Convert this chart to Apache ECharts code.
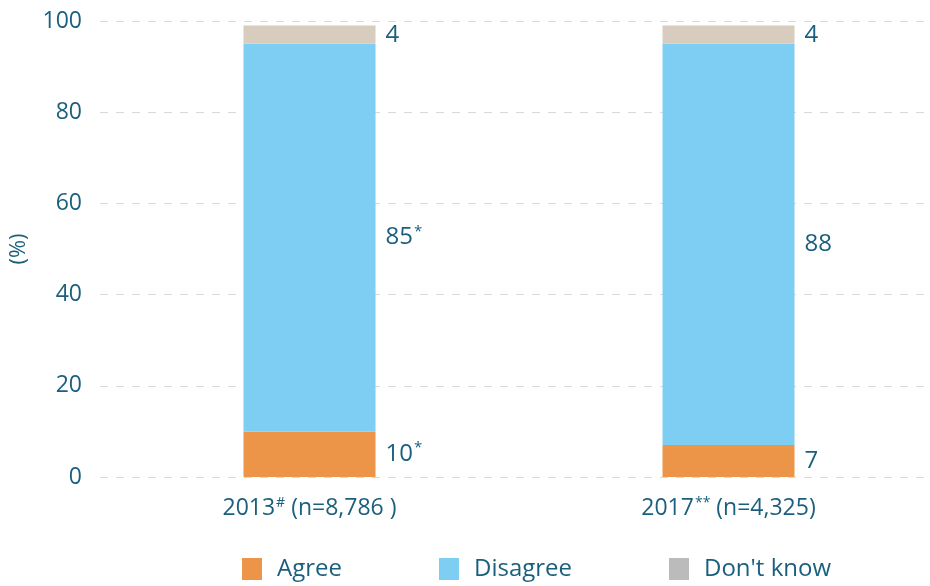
<!DOCTYPE html>
<html>
<head>
<meta charset="utf-8">
<script src="https://cdn.jsdelivr.net/npm/echarts@6/dist/echarts.min.js"></script>
<style>
  html, body { margin: 0; padding: 0; background: #fff; }
  #chart { width: 930px; height: 586px; }
</style>
</head>
<body>
<div id="chart"></div>
<script>
  // data
  const years = ['2013', '2017'];
  const yearMarks = ['#', '**'];
  const sampleSizes = ['(n=8,786 )', '(n=4,325)'];
  const agree = [10, 7];
  const disagree = [85, 88];
  const dontKnow = [4, 4];
  const agreeMarks = ['*', ''];
  const disagreeMarks = ['*', ''];
  const yTicks = [0, 20, 40, 60, 80, 100];

  const textColor = '#1b5f7e';
  const font = '"Open Sans", "Noto Sans", sans-serif';

  const chart = echarts.init(document.getElementById('chart'));

  // label with a superscript mark (e.g. 85*)
  function markLabel(marks) {
    return {
      show: true,
      position: 'right',
      distance: 10,
      formatter: (p) => {
        const m = marks[p.dataIndex];
        return m ? '{v|' + p.value + '}{s|' + m + '}' : '{v|' + p.value + '}';
      },
      rich: {
        v: {fontSize: 24, color: textColor, fontFamily: font},
        s: {fontSize: 15, color: textColor, fontFamily: font, verticalAlign: 'top', padding: [0, 0, 12, 1]},
      },
    };
  }

  chart.setOption({
    animation: false,
    textStyle: {fontFamily: font},
    legend: {
      bottom: 0,
      left: 237,
      itemWidth: 20,
      itemHeight: 22,
      itemGap: 97,
      icon: 'rect',
      textStyle: {fontSize: 24, color: textColor, fontFamily: font, padding: [0, 0, 0, 10]},
      data: [
        {name: 'Agree'},
        {name: 'Disagree'},
        {name: "Don't know", itemStyle: {color: '#bbbbbb'}},
      ],
    },
    grid: [
      // grid for the y axis and dashed lines
      {left: 100, right: 5, top: 21, bottom: 109, outerBoundsMode: 'none'},
      // grid for the bars (slightly wider so bars land where they do)
      {left: 100, width: 838, top: 21, bottom: 109, outerBoundsMode: 'none'},
    ],
    xAxis: [
      {gridIndex: 0, type: 'category', data: years, show: false},
      {
        gridIndex: 1,
        type: 'category',
        data: years,
        axisLine: {show: false},
        axisTick: {show: false},
        axisLabel: {
          margin: 19,
          formatter: (v, i) => '{v|' + v + '}{s|' + yearMarks[i] + '}{v| ' + sampleSizes[i] + '}',
          rich: {
            v: {fontSize: 23, color: textColor, fontFamily: font},
            s: {fontSize: 14, color: textColor, fontFamily: font, verticalAlign: 'top', padding: [0, 0, 11, 1]},
          },
        },
      },
    ],
    yAxis: [
      {
        gridIndex: 0,
        type: 'value',
        min: yTicks[0],
        max: yTicks[yTicks.length - 1],
        interval: 20,
        name: '(%)',
        nameLocation: 'middle',
        nameGap: 70,
        nameRotate: 90,
        nameTextStyle: {fontSize: 22, color: textColor, fontFamily: font},
        axisLine: {show: false},
        axisTick: {show: false},
        axisLabel: {fontSize: 23, color: textColor, margin: 18},
        splitLine: {lineStyle: {color: '#d9d9d9', type: [8, 8], width: 1}},
      },
      {gridIndex: 1, type: 'value', min: 0, max: 100, show: false, splitLine: {show: false}},
    ],
    color: ['#ec9549', '#7ecef3', '#d8ccbf'],
    series: [
      {
        name: 'Agree',
        type: 'bar',
        stack: 'all',
        xAxisIndex: 1,
        yAxisIndex: 1,
        barWidth: 132,
        data: agree,
        label: markLabel(agreeMarks),
      },
      {
        name: 'Disagree',
        type: 'bar',
        stack: 'all',
        xAxisIndex: 1,
        yAxisIndex: 1,
        barWidth: 132,
        data: disagree,
        label: markLabel(disagreeMarks),
      },
      {
        name: "Don't know",
        type: 'bar',
        stack: 'all',
        xAxisIndex: 1,
        yAxisIndex: 1,
        barWidth: 132,
        data: dontKnow,
        label: markLabel(['', '']),
      },
    ],
  });
</script>
</body>
</html>
